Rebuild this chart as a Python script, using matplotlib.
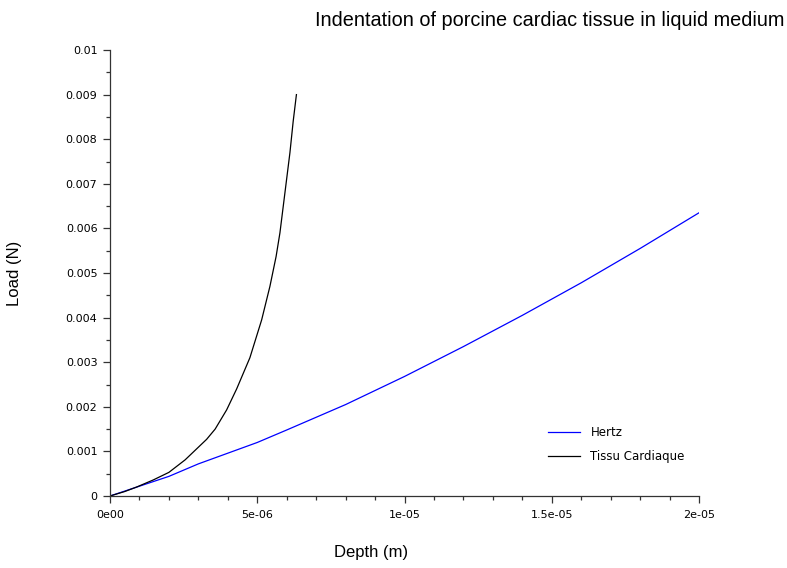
import matplotlib
matplotlib.use("Agg")
import matplotlib.pyplot as plt
from matplotlib.ticker import AutoMinorLocator

# ---------------------------------------------------------------------------
# Data
# ---------------------------------------------------------------------------
hertz_depth = [0, 1e-6, 2e-6, 3e-6, 4e-6, 5e-6, 6e-6, 8e-6, 1e-5,
               1.2e-5, 1.4e-5, 1.6e-5, 1.8e-5, 2e-5]
hertz_load = [0, 0.00022, 0.00044, 0.00072, 0.00096, 0.0012, 0.00148,
              0.00205, 0.00268, 0.00335, 0.00405, 0.00478, 0.00555, 0.00635]

tissue_depth = [0, 0.5e-6, 0.9e-6, 1.47e-6, 2e-6, 2.55e-6, 3.28e-6, 3.57e-6,
                3.96e-6, 4.3e-6, 4.75e-6, 5.15e-6, 5.43e-6, 5.64e-6, 5.77e-6,
                5.94e-6, 6.11e-6, 6.22e-6, 6.33e-6]
tissue_load = [0, 0.0001, 0.0002, 0.00036, 0.00053, 0.00081, 0.00127, 0.00150,
               0.00193, 0.0024, 0.0031, 0.00395, 0.0047, 0.00537, 0.0059,
               0.0068, 0.0077, 0.0084, 0.009]

x_ticks = [0, 5e-6, 1e-5, 1.5e-5, 2e-5]
x_tick_labels = ["0e00", "5e-06", "1e-05", "1.5e-05", "2e-05"]
y_ticks = [0, 0.001, 0.002, 0.003, 0.004, 0.005, 0.006, 0.007, 0.008, 0.009, 0.01]
y_tick_labels = ["0", "0.001", "0.002", "0.003", "0.004", "0.005",
                 "0.006", "0.007", "0.008", "0.009", "0.01"]

TITLE = "Indentation of porcine cardiac tissue in liquid medium"

# ---------------------------------------------------------------------------
fig = plt.figure(figsize=(7.87, 5.68), dpi=100)
ax = fig.add_axes([110 / 787, 1 - 496 / 568, 589 / 787, 446 / 568])

ax.plot(hertz_depth, hertz_load, color="blue", linewidth=0.9, label="Hertz")
ax.plot(tissue_depth, tissue_load, color="black", linewidth=0.9,
        label="Tissu Cardiaque")

ax.set_xlim(0, 2e-5)
ax.set_ylim(0, 0.01)

ax.set_xticks(x_ticks)
ax.set_xticklabels(x_tick_labels)
ax.set_yticks(y_ticks)
ax.set_yticklabels(y_tick_labels)
ax.xaxis.set_minor_locator(AutoMinorLocator(5))
ax.yaxis.set_minor_locator(AutoMinorLocator(2))

for lab in ax.get_xticklabels() + ax.get_yticklabels():
    lab.set_family("DejaVu Sans")
    lab.set_fontsize(8)

ax.tick_params(which="major", length=5, width=0.9, color="#333333")
ax.tick_params(which="minor", length=3, width=0.9, color="#333333")
ax.tick_params(axis="x", which="major", pad=5)
ax.tick_params(axis="y", which="major", pad=4)

ax.spines["top"].set_visible(False)
ax.spines["right"].set_visible(False)
for s in ("left", "bottom"):
    ax.spines[s].set_linewidth(0.9)
    ax.spines[s].set_color("#333333")

leg = ax.legend(loc="upper left", bbox_to_anchor=((548 - 110) / 589, (496 - 426) / 446),
                frameon=False, borderpad=0, borderaxespad=0,
                handlelength=2.7, handletextpad=0.9, labelspacing=0.95,
                prop={"family": "DejaVu Sans", "size": 8.5})

fig.text(550 / 787, 1 - 20 / 568, TITLE, ha="center", va="center",
         fontsize=14.3, family="Liberation Sans")
fig.text(371 / 787, 1 - 552 / 568, "Depth (m)", ha="center", va="center",
         fontsize=12, family="Liberation Sans")
fig.text(14 / 787, 1 - 273 / 568, "Load (N)", ha="center", va="center",
         rotation=90, fontsize=12, family="Liberation Sans")

fig.savefig("out.png", dpi=100)
